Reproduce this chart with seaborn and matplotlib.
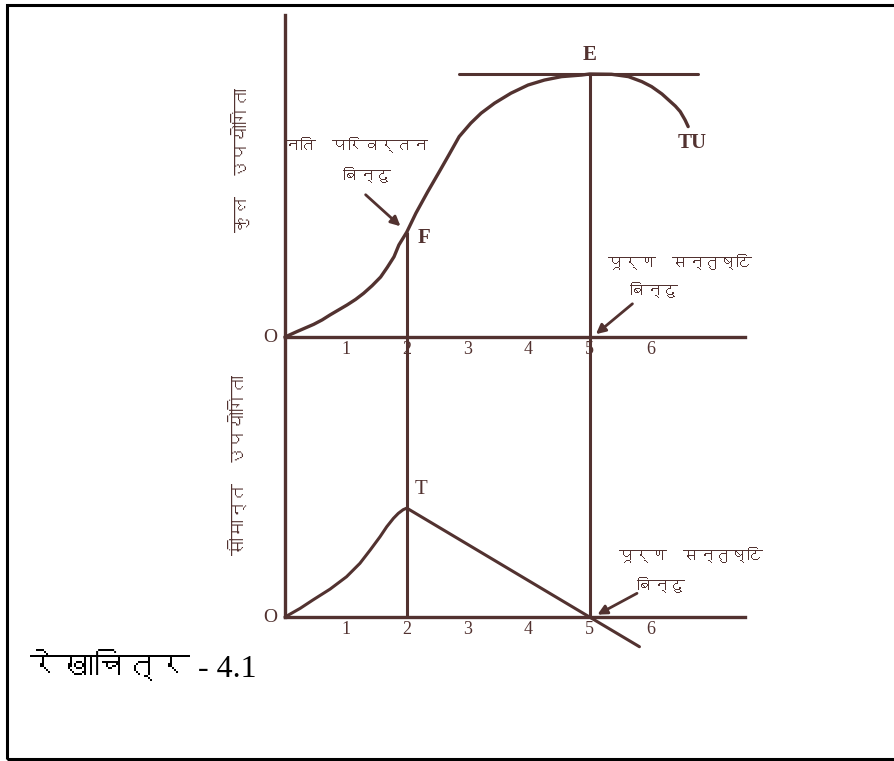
import numpy as np
import pandas as pd
import matplotlib
matplotlib.use("Agg")
import matplotlib.pyplot as plt
import seaborn as sns
from matplotlib import font_manager
from matplotlib.ft2font import FT2Font
from matplotlib.patches import Rectangle

# total utility curve
tu_x = [0, 0.19, 0.47, 0.61, 0.74, 1.02, 1.16, 1.29, 1.43, 1.57, 1.68, 1.79,
        1.87, 2.0, 2.15, 2.34, 2.53, 2.69, 2.86, 3.05, 3.22, 3.44, 3.71, 3.99,
        4.26, 4.54, 4.87, 5.0, 5.36, 5.64, 5.86, 6.02, 6.19, 6.30, 6.41, 6.49,
        6.57, 6.62]
tu_y = [0, 0.20, 0.48, 0.65, 0.84, 1.22, 1.43, 1.66, 1.95, 2.28, 2.65, 3.05,
        3.50, 3.99, 4.71, 5.51, 6.27, 6.92, 7.62, 8.13, 8.51, 8.89, 9.27, 9.58,
        9.77, 9.90, 9.96, 10.0, 9.99, 9.90, 9.71, 9.52, 9.24, 9.01, 8.78, 8.57,
        8.25, 8.0]
# marginal utility curve
mu_x = [0, 0.25, 0.46, 0.74, 1.01, 1.23, 1.40, 1.56, 1.67, 1.78, 1.86, 1.94,
        2.0, 5.0, 5.82]
mu_y = [0, 0.33, 0.65, 1.06, 1.53, 2.04, 2.55, 3.05, 3.43, 3.75, 3.94, 4.08,
        4.14, 0, -1.13]

ticks = [1, 2, 3, 4, 5, 6]
tick_labels = ["1", "2", "3", "4", "5", "6"]
inflection_x, inflection_y = 2.0, 3.99
max_x, max_y = 5.0, 10.0
tangent_x = [2.85, 6.78]

BROWN = "#523230"
UNIT_X = 60.9  # px per x unit
UNIT_Y = 26.3  # px per y unit


def find_devanagari():
    for f in font_manager.fontManager.ttflist:
        try:
            if 0x0915 in FT2Font(f.fname).get_charmap():
                return f.name
        except Exception:
            pass
    return None


sns.set_style("white")
deva = find_devanagari()
hindi_fam = [deva, "DejaVu Sans"] if deva else ["DejaVu Sans"]
serif_fam = ["Liberation Serif"] + ([deva] if deva else []) + ["DejaVu Serif"]
plt.rcParams["font.family"] = hindi_fam

fig = plt.figure(figsize=(8.95, 7.61), dpi=100)
ax_bot = fig.add_axes([285 / 895, 1 - 617 / 761, 460 / 895, 280 / 761])
ax_top = fig.add_axes([285 / 895, 1 - 337 / 761, 460 / 895, 322 / 761])
for ax in (ax_top, ax_bot):
    ax.patch.set_visible(False)

tu_df = pd.DataFrame({"x": tu_x, "y": tu_y})
mu_df = pd.DataFrame({"x": mu_x, "y": mu_y})

sns.lineplot(data=tu_df, x="x", y="y", ax=ax_top, color=BROWN, lw=2.4,
             sort=False, clip_on=False)
sns.lineplot(data=mu_df, x="x", y="y", ax=ax_bot, color=BROWN, lw=2.2,
             sort=False, clip_on=False)

ax_top.set_xlim(0, 460 / UNIT_X)
ax_top.set_ylim(0, 322 / UNIT_Y)
ax_bot.set_xlim(0, 460 / UNIT_X)
ax_bot.set_ylim(0, 280 / UNIT_Y)

# tangent at E and the drop lines
ax_top.plot(tangent_x, [max_y, max_y], color=BROWN, lw=2.2)
ax_top.vlines([inflection_x], 0, inflection_y, color=BROWN, lw=2.2)
ax_top.vlines([max_x], 0, max_y, color=BROWN, lw=2.2)
ax_bot.vlines([inflection_x, max_x], 0, 280 / UNIT_Y, color=BROWN, lw=2.2)

for ax in (ax_top, ax_bot):
    sns.despine(ax=ax)
    for s in ("left", "bottom"):
        ax.spines[s].set_color(BROWN)
        ax.spines[s].set_linewidth(2.4)
    ax.set_xticks(ticks)
    ax.set_xticklabels(tick_labels, family=serif_fam, fontsize=13)
    ax.set_yticks([])
    ax.tick_params(axis="x", direction="in", length=6, width=1.8,
                   color=BROWN, labelcolor=BROWN, pad=3)
    ax.set_xlabel("")
    ax.set_ylabel("")
    ax.text(-0.12, 0, "O", ha="right", va="center", fontsize=14,
            color=BROWN, family=serif_fam)

# labels top panel
ax_top.text(max_x, 10.72, "E", ha="center", va="center", fontsize=15,
            color=BROWN, family=serif_fam, fontweight="bold")
ax_top.text(6.68, 7.38, "TU", ha="center", va="center", fontsize=15,
            color=BROWN, family=serif_fam, fontweight="bold")
ax_top.text(2.28, 3.76, "F", ha="center", va="center", fontsize=15,
            color=BROWN, family=serif_fam, fontweight="bold")
ax_top.text(1.16, 7.3, "नति  परिवर्तन", ha="center", va="center",
            fontsize=11.5, color=BROWN, fontweight="bold")
ax_top.text(1.34, 6.16, "बिन्दु", ha="center", va="center",
            fontsize=11.5, color=BROWN, fontweight="bold")
ax_top.annotate("", xy=(1.93, 4.14), xytext=(1.29, 5.48),
                arrowprops=dict(arrowstyle="-|>", color=BROWN, lw=2,
                                mutation_scale=14))
ax_top.text(6.49, 2.85, "पूर्ण  सन्तुष्टि", ha="center", va="center",
            fontsize=11.5, color=BROWN, fontweight="bold")
ax_top.text(6.06, 1.79, "बिन्दु", ha="center", va="center",
            fontsize=11.5, color=BROWN, fontweight="bold")
ax_top.annotate("", xy=(5.07, 0.04), xytext=(5.74, 1.33),
                arrowprops=dict(arrowstyle="-|>", color=BROWN, lw=2,
                                mutation_scale=14))

# labels bottom panel
ax_bot.text(2.23, 4.83, "T", ha="center", va="center", fontsize=15,
            color=BROWN, family=serif_fam)
ax_bot.text(6.66, 2.36, "पूर्ण  सन्तुष्टि", ha="center", va="center",
            fontsize=11.5, color=BROWN, fontweight="bold")
ax_bot.text(6.17, 1.22, "बिन्दु", ha="center", va="center",
            fontsize=11.5, color=BROWN, fontweight="bold")
ax_bot.annotate("", xy=(5.09, 0.04), xytext=(5.82, 0.95),
                arrowprops=dict(arrowstyle="-|>", color=BROWN, lw=2,
                                mutation_scale=14))

# rotated axis titles
fig.text(240 / 895, 1 - 160 / 761, "कुल  उपयोगिता", rotation=90,
         ha="center", va="center", fontsize=13, color=BROWN, fontweight="bold")
fig.text(237 / 895, 1 - 465 / 761, "सीमान्त  उपयोगिता", rotation=90,
         ha="center", va="center", fontsize=13, color=BROWN, fontweight="bold")

# caption and frame
fig.text(30 / 895, 1 - 668 / 761, "रेखाचित्र - 4.1", ha="left", va="center",
         fontsize=23, color="black", family=serif_fam)
fig.add_artist(Rectangle((7 / 895, 2 / 761), 1.0, 754 / 761,
                         transform=fig.transFigure, fill=False,
                         edgecolor="black", lw=2.2, clip_on=False))

fig.savefig("out.png", dpi=100)
